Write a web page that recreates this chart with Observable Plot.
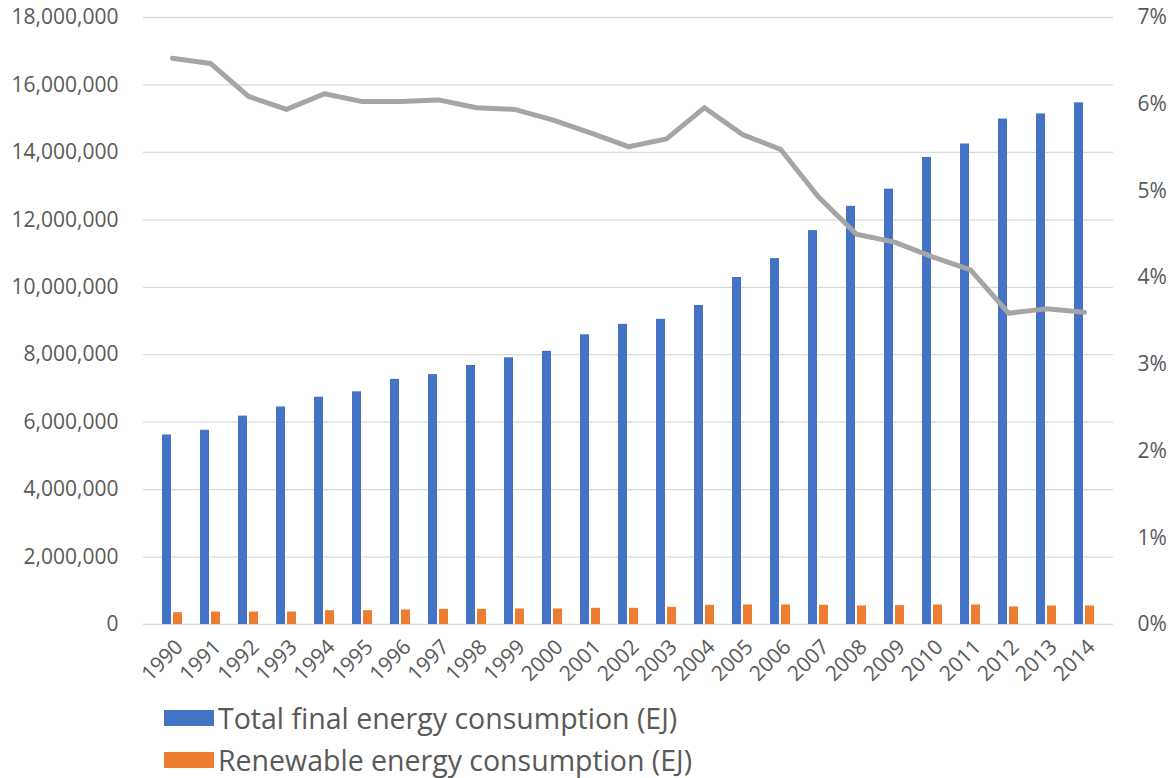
<!DOCTYPE html>
<html>
<head>
<meta charset="utf-8">
<script src="https://cdn.jsdelivr.net/npm/d3@7"></script>
<script src="https://cdn.jsdelivr.net/npm/@observablehq/plot@0.6"></script>
<style>
  html, body { margin: 0; padding: 0; background: #fff; }
  #chart { position: relative; width: 1172px; height: 778px; font-family: "Open Sans", sans-serif; }
  #legend { position: absolute; left: 164px; top: 697px; color: #595959; font-size: 28.5px; }
  .row { display: flex; align-items: center; height: 42px; }
  .swatch { width: 50px; height: 16px; margin-right: 4px; flex: none; }
</style>
</head>
<body>
<div id="chart">
  <div id="plot"></div>
  <div id="legend"></div>
</div>
<script>
// Years on the category axis
const years = ["1990", "1991", "1992", "1993", "1994", "1995", "1996", "1997", "1998", "1999",
  "2000", "2001", "2002", "2003", "2004", "2005", "2006", "2007", "2008", "2009",
  "2010", "2011", "2012", "2013", "2014"];

// Total final energy consumption (left axis)
const totalEnergy = [5620000, 5760000, 6180000, 6450000, 6740000, 6900000, 7270000, 7410000, 7680000, 7910000,
  8100000, 8590000, 8900000, 9050000, 9460000, 10290000, 10850000, 11680000, 12400000, 12910000,
  13850000, 14250000, 14990000, 15140000, 15470000];

// Renewable energy consumption (left axis)
const renewableEnergy = [350000, 370000, 370000, 370000, 410000, 410000, 430000, 450000, 450000, 460000,
  460000, 480000, 480000, 510000, 570000, 580000, 580000, 570000, 550000, 560000,
  580000, 580000, 520000, 550000, 550000];

// Renewable share of total, in percent (right axis)
const renewableShare = [6.53, 6.47, 6.09, 5.94, 6.12, 6.03, 6.03, 6.05, 5.96, 5.94,
  5.82, 5.67, 5.51, 5.60, 5.96, 5.65, 5.48, 4.93, 4.50, 4.41,
  4.24, 4.09, 3.59, 3.64, 3.60];

// Axis ticks
const energyTicks = [0, 2000000, 4000000, 6000000, 8000000, 10000000, 12000000, 14000000, 16000000, 18000000];
const shareTicks = [0, 1, 2, 3, 4, 5, 6, 7];

// Series names and colours
const seriesNames = ["Total final energy consumption (EJ)", "Renewable energy consumption (EJ)"];
const seriesColors = ["#4472C4", "#ED7D31"];
const lineColor = "#A5A5A5";

const leftMax = energyTicks[energyTicks.length - 1];
const rightMax = shareTicks[shareTicks.length - 1];
const toLeft = leftMax / rightMax; // maps a percent onto the left axis range

const rows = years.map((year, i) => ({
  year,
  total: totalEnergy[i],
  renewable: renewableEnergy[i],
  share: renewableShare[i]
}));

const chart = Plot.plot({
  width: 1172,
  height: 698,
  marginTop: 17,
  marginBottom: 74,
  marginLeft: 143,
  marginRight: 59,
  style: { fontFamily: "Open Sans", color: "#595959", background: "#fff" },
  x: { type: "band", domain: years, paddingInner: 0.48, paddingOuter: 0.24 },
  y: { domain: [0, leftMax] },
  marks: [
    Plot.ruleY(energyTicks, { stroke: "#D9D9D9", strokeWidth: 1.3 }),
    Plot.barY(rows, { x: "year", y: "total", fill: seriesColors[0], insetRight: 11 }),
    Plot.barY(rows, { x: "year", y: "renewable", fill: seriesColors[1], insetLeft: 11 }),
    Plot.line(rows, {
      x: "year",
      y: (d) => d.share * toLeft,
      stroke: lineColor,
      strokeWidth: 5,
      strokeLinecap: "round",
      strokeLinejoin: "round"
    }),
    Plot.axisY({
      anchor: "left",
      ticks: energyTicks,
      tickFormat: d3.format(","),
      tickSize: 0,
      tickPadding: 25,
      fontSize: 21,
      label: null
    }),
    Plot.axisY({
      anchor: "right",
      ticks: shareTicks.map((v) => v * toLeft),
      tickFormat: (v) => Math.round(v / toLeft) + "%",
      tickSize: 0,
      tickPadding: 24,
      fontSize: 21,
      label: null
    }),
    Plot.axisX({
      tickRotate: -45,
      tickSize: 0,
      tickPadding: 19,
      dx: 7,
      fontSize: 21,
      label: null
    })
  ]
});
document.getElementById("plot").appendChild(chart);

// Legend below the plot
const legend = document.getElementById("legend");
seriesNames.forEach((name, i) => {
  const row = document.createElement("div");
  row.className = "row";
  const sw = document.createElement("span");
  sw.className = "swatch";
  sw.style.background = seriesColors[i];
  const label = document.createElement("span");
  label.textContent = name;
  row.appendChild(sw);
  row.appendChild(label);
  legend.appendChild(row);
});
</script>
</body>
</html>
